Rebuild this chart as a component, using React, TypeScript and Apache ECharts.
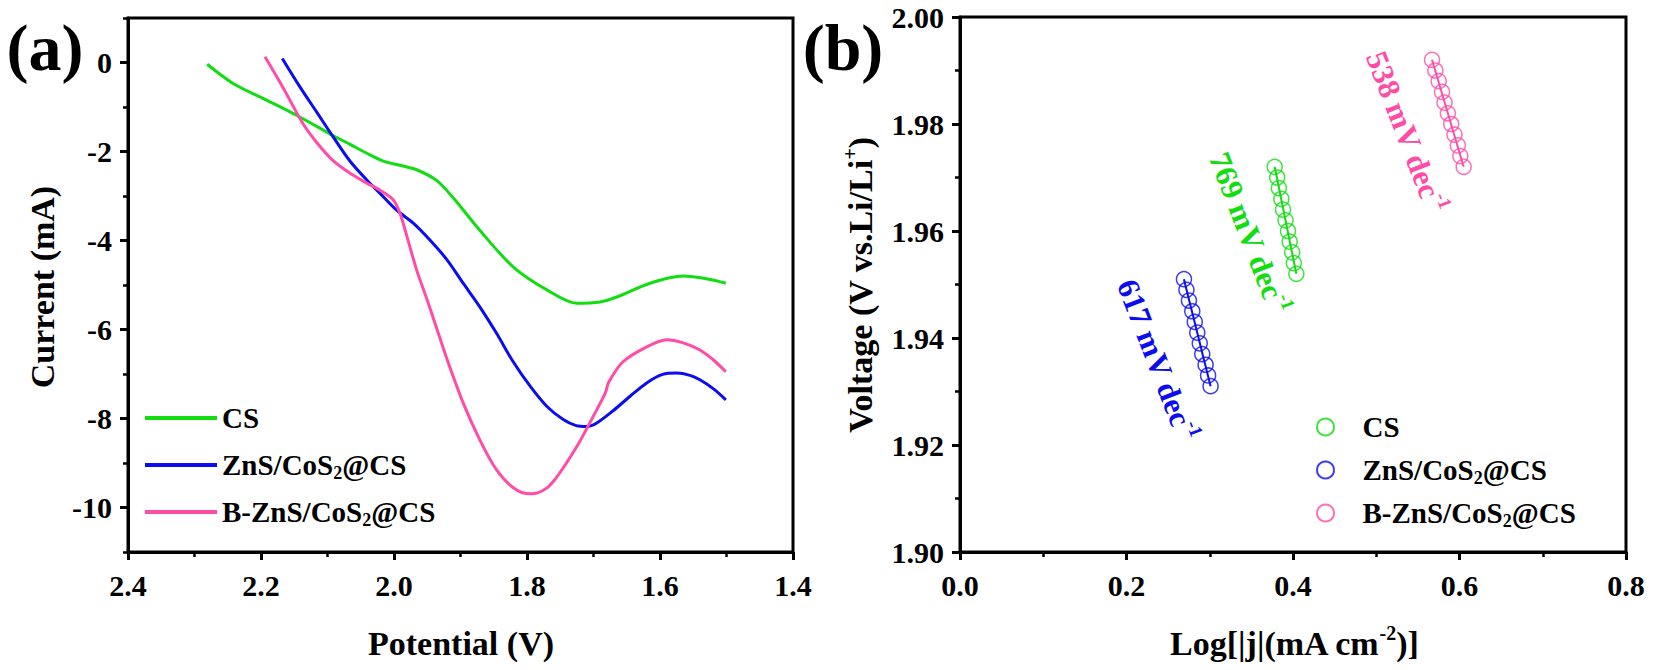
import React, { useEffect, useRef } from 'react';
import * as echarts from 'echarts';

const FONT = "'Liberation Serif', 'Times New Roman', serif";
const GREEN = '#12dc12';
const BLUE = '#0c0cf0';
const PINK = '#ff4ca6';

const NAMES = ['CS', 'ZnS/CoS2@CS', 'B-ZnS/CoS2@CS'];

// Panel (a): LSV curves, potential (V) and current (mA)
const POT_CS = [2.281, 2.242, 2.191, 2.141, 2.092, 2.066, 2.041, 2.017, 1.991, 1.966, 1.936, 1.911, 1.871, 1.821, 1.770, 1.725, 1.690, 1.665, 1.615, 1.565, 1.530, 1.501];
const CUR_CS = [-0.04, -0.47, -0.85, -1.23, -1.64, -1.84, -2.04, -2.21, -2.31, -2.41, -2.65, -3.04, -3.77, -4.59, -5.11, -5.41, -5.38, -5.27, -4.96, -4.80, -4.86, -4.96];

const POT_ZNS = [2.168, 2.141, 2.116, 2.092, 2.066, 2.041, 2.021, 1.996, 1.971, 1.946, 1.920, 1.896, 1.871, 1.846, 1.821, 1.795, 1.770, 1.745, 1.726, 1.710, 1.695, 1.670, 1.645, 1.620, 1.596, 1.575, 1.555, 1.540, 1.520, 1.501];
const CUR_ZNS = [0.09, -0.56, -1.12, -1.66, -2.22, -2.64, -2.94, -3.32, -3.61, -3.99, -4.44, -4.96, -5.49, -6.08, -6.72, -7.28, -7.73, -8.03, -8.16, -8.18, -8.10, -7.82, -7.50, -7.20, -7.01, -6.98, -7.03, -7.13, -7.33, -7.58];

const POT_BZNS = [2.194, 2.167, 2.137, 2.115, 2.092, 2.066, 2.041, 2.021, 2.001, 1.991, 1.979, 1.966, 1.950, 1.935, 1.920, 1.896, 1.871, 1.846, 1.821, 1.798, 1.784, 1.770, 1.758, 1.746, 1.733, 1.720, 1.695, 1.682, 1.677, 1.656, 1.620, 1.590, 1.565, 1.540, 1.520, 1.501];
const CUR_BZNS = [0.13, -0.56, -1.37, -1.82, -2.20, -2.49, -2.71, -2.87, -3.09, -3.39, -3.99, -4.66, -5.34, -6.01, -6.68, -7.65, -8.48, -9.15, -9.55, -9.69, -9.67, -9.56, -9.37, -9.12, -8.82, -8.50, -7.80, -7.42, -7.18, -6.73, -6.39, -6.23, -6.30, -6.46, -6.68, -6.95];

// Panel (b): Tafel points, log|j| and voltage
const LOGJ_CS = [0.378, 0.381, 0.383, 0.386, 0.388, 0.391, 0.394, 0.396, 0.399, 0.401, 0.404];
const VOLT_CS = [1.972, 1.970, 1.968, 1.966, 1.964, 1.962, 1.960, 1.958, 1.956, 1.954, 1.952];
const LOGJ_ZNS = [0.269, 0.272, 0.275, 0.279, 0.282, 0.285, 0.288, 0.291, 0.295, 0.298, 0.301];
const VOLT_ZNS = [1.951, 1.949, 1.947, 1.945, 1.943, 1.941, 1.939, 1.937, 1.935, 1.933, 1.931];
const LOGJ_BZNS = [0.567, 0.571, 0.575, 0.579, 0.582, 0.586, 0.590, 0.594, 0.598, 0.601, 0.605];
const VOLT_BZNS = [1.992, 1.990, 1.988, 1.986, 1.984, 1.982, 1.980, 1.978, 1.976, 1.974, 1.972];

const SLOPES = ['769', '617', '538'];

const A_Y_MAJOR = [-10, -8, -6, -4, -2, 0];
const A_Y_MINOR = [-11, -9, -7, -5, -3, -1, 1];

const zip = (xs: number[], ys: number[]) => xs.map((x, i) => [x, ys[i]]);

const subRich = {
  sub: { fontFamily: FONT, fontWeight: 'bold', fontSize: 18, lineHeight: 18, verticalAlign: 'bottom', color: '#000' },
};
const legendFmt = (name: string) => name.replace(/^b:/, '').replace('CoS2', 'CoS{sub|2}');

const App: React.FC = () => {
  const ref = useRef<HTMLDivElement>(null);
  useEffect(() => {
    document.body.style.margin = '0';
    if (!ref.current) return;
    const chart = echarts.init(ref.current, undefined, { renderer: 'svg' });
    const colors = [GREEN, BLUE, PINK];
    const aData = [zip(POT_CS, CUR_CS), zip(POT_ZNS, CUR_ZNS), zip(POT_BZNS, CUR_BZNS)];
    const bData = [zip(LOGJ_CS, VOLT_CS), zip(LOGJ_ZNS, VOLT_ZNS), zip(LOGJ_BZNS, VOLT_BZNS)];
    const labelStyle = { fontFamily: FONT, fontWeight: 'bold', fontSize: 30, color: '#000' };
    const legendText = { fontFamily: FONT, fontWeight: 'bold', fontSize: 29, color: '#000' };
    const axisLine = { show: true, onZero: false, lineStyle: { color: '#000', width: 3 } };
    const tick = { show: true, inside: false, length: 8, lineStyle: { color: '#000', width: 3 } };
    const minor = { show: true, splitNumber: 2, length: 5, lineStyle: { color: '#000', width: 2.5 } };

    const titleText = (text: string, x: number, y: number, rot: number, color = '#000', size = 34) => ({
      type: 'text', x, y, rotation: rot, silent: true,
      style: {
        text, fill: color, fontFamily: FONT, fontWeight: 'bold', fontSize: size,
        align: 'center', verticalAlign: 'middle', lineHeight: 40,
        rich: {
          sup: { fontFamily: FONT, fontWeight: 'bold', fontSize: Math.round(size * 0.6), lineHeight: 18, verticalAlign: 'top', fill: color, color },
        },
      },
    });

    const option: any = {
      animation: false,
      backgroundColor: '#fff',
      grid: [
        { left: 128, top: 18, width: 665, height: 534, show: true, borderColor: '#000', borderWidth: 3, containLabel: false, outerBoundsMode: 'none' },
        { left: 960, top: 17, width: 666, height: 535, show: true, borderColor: '#000', borderWidth: 3, containLabel: false, outerBoundsMode: 'none' },
      ],
      xAxis: [
        {
          type: 'value', gridIndex: 0, min: 1.4, max: 2.4, interval: 0.2, inverse: true,
          axisLine, axisTick: tick, minorTick: minor, splitLine: { show: false },
          axisLabel: { ...labelStyle, margin: 18, formatter: (v: number) => v.toFixed(1) },
        },
        {
          type: 'value', gridIndex: 1, min: 0, max: 0.8, interval: 0.2,
          axisLine, axisTick: tick, minorTick: minor, splitLine: { show: false },
          axisLabel: { ...labelStyle, margin: 18, formatter: (v: number) => v.toFixed(1) },
        },
      ],
      yAxis: [
        {
          type: 'value', gridIndex: 0, position: 'left', min: -11, max: 1,
          axisLine, axisTick: { ...tick, customValues: A_Y_MAJOR }, splitLine: { show: false },
          axisLabel: { ...labelStyle, margin: 16, customValues: A_Y_MAJOR, formatter: (v: number) => String(v) },
        },
        {
          type: 'value', gridIndex: 0, position: 'left', offset: 0, min: -11, max: 1,
          axisLine: { show: false }, splitLine: { show: false },
          axisTick: { show: true, inside: false, length: 5, customValues: A_Y_MINOR, lineStyle: { color: '#000', width: 2.5 } },
          axisLabel: { show: false },
        },
        {
          type: 'value', gridIndex: 1, min: 1.9, max: 2.0, interval: 0.02,
          axisLine, axisTick: tick, minorTick: minor, splitLine: { show: false },
          axisLabel: { ...labelStyle, margin: 16, formatter: (v: number) => v.toFixed(2) },
        },
      ],
      legend: [
        {
          orient: 'vertical', left: 138, top: 396, itemWidth: 72, itemHeight: 14, itemGap: 13,
          data: NAMES, formatter: legendFmt, selectedMode: false,
          itemStyle: { opacity: 0 },
          lineStyle: { width: 4 },
          textStyle: { ...legendText, lineHeight: 34, rich: subRich },
        },
        {
          orient: 'vertical', left: 1311, top: 405, itemWidth: 64, itemHeight: 17, itemGap: 9,
          data: NAMES.map((n) => 'b:' + n), formatter: legendFmt, selectedMode: false,
          textStyle: { ...legendText, lineHeight: 34, rich: subRich },
        },
      ],
      series: [
        ...NAMES.map((n, i) => ({
          name: n, type: 'line', xAxisIndex: 0, yAxisIndex: 0, data: aData[i],
          symbol: 'none', showSymbol: false, smooth: 0.3, color: colors[i],
          lineStyle: { color: colors[i], width: 3 },
        })),
        ...NAMES.map((n, i) => ({
          name: 'fit:' + n, type: 'line', xAxisIndex: 1, yAxisIndex: 2,
          data: [bData[i][0], bData[i][bData[i].length - 1]],
          symbol: 'none', showSymbol: false, z: 3, color: colors[i],
          lineStyle: { color: colors[i], width: 2 },
        })),
        ...NAMES.map((n, i) => ({
          name: 'b:' + n, type: 'scatter', xAxisIndex: 1, yAxisIndex: 2, data: bData[i],
          symbol: 'circle', symbolSize: 15, z: 2,
          itemStyle: { color: 'rgba(255,255,255,0)', borderColor: colors[i], borderWidth: 1.5 },
        })),
      ],
      graphic: [
        titleText('(a)', 45, 47, 0, '#000', 66),
        titleText('(b)', 843, 47, 0, '#000', 66),
        titleText('Current (mA)', 42, 287, Math.PI / 2),
        titleText('Potential (V)', 461, 643, 0),
        titleText('Voltage (V vs.Li/Li{sup|+})', 860, 285, Math.PI / 2),
        titleText('Log[|j|(mA cm{sup|-2})]', 1294, 643, 0),
        titleText(SLOPES[0] + ' mV dec{sup|-1}', 1249, 233, -1.2, GREEN, 31),
        titleText(SLOPES[1] + ' mV dec{sup|-1}', 1157, 360, -1.2, BLUE, 31),
        titleText(SLOPES[2] + ' mV dec{sup|-1}', 1406, 132, -1.2, PINK, 31),
      ],
    };
    chart.setOption(option);
    return () => chart.dispose();
  }, []);
  return <div ref={ref} style={{ width: '1654px', height: '670px' }} />;
};

export default App;
